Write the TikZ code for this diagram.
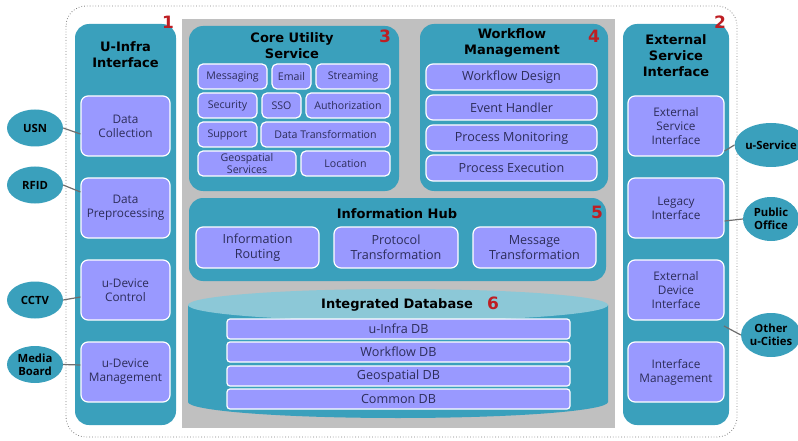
\documentclass[tikz,border=0pt]{standalone}
\usepackage{fontspec}
\setmainfont{Open Sans}
\newfontfamily\titlefont{DejaVu Sans}
\usetikzlibrary{shapes.geometric,calc}
\definecolor{tealp}{RGB}{58,160,188}
\definecolor{toplight}{RGB}{140,200,215}
\definecolor{lav}{RGB}{153,153,255}
\definecolor{bggray}{RGB}{192,192,192}
\definecolor{numred}{RGB}{190,30,35}
\definecolor{txt}{RGB}{45,45,90}
\definecolor{linkgray}{RGB}{110,110,110}
\newcommand\Rbox[6]{\node[#1, minimum width={#4-#2}, minimum height={#5-#3}] (#6) at ({(#2+#4)/2},{(#3+#5)/2})}
\tikzset{
  panel/.style={fill=tealp, draw=none, rounded corners=14pt, inner sep=0pt, outer sep=0pt},
  ibox/.style={fill=lav, draw=white, line width=1.2pt, rounded corners=7pt, inner sep=0pt,
    font=\fontsize{11.8}{14}\selectfont, text=txt, align=center},
  wbox/.style={ibox, font=\fontsize{12.6}{14}\selectfont},
  hbox/.style={ibox, font=\fontsize{12.6}{15}\selectfont},
  sbox/.style={ibox, rounded corners=5pt, font=\fontsize{10.6}{12}\selectfont},
  dbbar/.style={ibox, rounded corners=3pt, font=\fontsize{12.6}{13}\selectfont},
  title/.style={font=\titlefont\bfseries\fontsize{13}{16}\selectfont, align=center, text=black, inner sep=0pt},
  num/.style={font=\titlefont\bfseries\fontsize{17}{17}\selectfont, text=numred, inner sep=0pt},
  ext/.style={ellipse, fill=tealp, draw=none, inner sep=0pt, align=center,
    font=\bfseries\fontsize{11.3}{13}\selectfont, text=black},
  link/.style={draw=linkgray, line width=1.2pt}
}
\begin{document}
\begin{tikzpicture}[x=1pt,y=-1pt]
\useasboundingbox (0,0) rectangle (798,441);
% outer dotted frame
\draw[gray, dotted, line width=0.8pt, rounded corners=20pt] (66,6) rectangle (737,437);
% gray background
\fill[bggray] (182,19) rectangle (615,428);
% left panel
\Rbox{panel}{75}{24}{176}{425}{left} {};
\node[title] (lt) at (125.5,54.5) {U-Infra\\Interface};
\node[num] (n1) at (168,22) {1};
\Rbox{ibox}{81}{96}{170}{156}{dc} {Data\\Collection};
\Rbox{ibox}{81}{178}{170}{238}{dp} {Data\\Preprocessing};
\Rbox{ibox}{81}{260}{170}{320}{udc} {u-Device\\Control};
\Rbox{ibox}{81}{342}{170}{402}{udm} {u-Device\\Management};
% right panel
\Rbox{panel}{623}{24}{729}{425}{right} {};
\node[title] (rt) at (676,56) {External\\Service\\Interface};
\node[num] (n2) at (720,22) {2};
\Rbox{ibox}{628}{96}{724}{156}{esi} {External\\Service\\Interface};
\Rbox{ibox}{628}{178}{724}{238}{leg} {Legacy\\Interface};
\Rbox{ibox}{628}{260}{724}{320}{edi} {External\\Device\\Interface};
\Rbox{ibox}{628}{342}{724}{402}{im} {Interface\\Management};
% core utility
\Rbox{panel}{189}{26}{399}{191}{core} {};
\node[title] (ct) at (292,46) {Core Utility\\Service};
\node[num] (n3) at (385,36) {3};
\Rbox{sbox}{198}{64}{267}{89}{msg} {Messaging};
\Rbox{sbox}{272}{64}{311}{89}{email} {Email};
\Rbox{sbox}{316}{64}{390}{89}{stream} {Streaming};
\Rbox{sbox}{198}{93}{257}{118}{sec} {Security};
\Rbox{sbox}{262}{93}{301}{118}{sso} {SSO};
\Rbox{sbox}{306}{93}{390}{118}{auth} {Authorization};
\Rbox{sbox}{198}{122}{257}{147}{sup} {Support};
\Rbox{sbox}{261}{122}{390}{147}{dtr} {Data Transformation};
\Rbox{sbox}{198}{151}{296}{176}{geo} {Geospatial\\Services};
\Rbox{sbox}{301}{151}{390}{176}{loc} {Location};
% workflow
\Rbox{panel}{420}{24}{608}{191}{wf} {};
\node[title] (wt) at (512,43) {Workflow\\Management};
\node[num] (n4) at (594,36) {4};
\Rbox{wbox}{426}{64}{597}{90}{wd} {Workflow Design};
\Rbox{wbox}{426}{95}{597}{120}{eh} {Event Handler};
\Rbox{wbox}{426}{125}{597}{151}{pm} {Process Monitoring};
\Rbox{wbox}{426}{155}{597}{181}{pe} {Process Execution};
% information hub
\Rbox{panel}{189}{198}{606}{281}{hub} {};
\node[title] (ht) at (397,214) {Information Hub};
\node[num] (n5) at (597,212) {5};
\Rbox{hbox}{196}{227}{319}{268}{ir} {Information\\Routing};
\Rbox{hbox}{334}{227}{458}{268}{pt} {Protocol\\Transformation};
\Rbox{hbox}{473}{227}{596}{268}{mt} {Message\\Transformation};
% database cylinder
\fill[tealp] (188,305) -- (188,402) arc[start angle=180, end angle=360, x radius=210pt, y radius=16pt] -- (608,305) -- cycle;
\fill[toplight] (398,305) ellipse [x radius=210pt, y radius=16pt];
\node[title] (dbt) at (397,305) {Integrated Database};
\node[num] (n6) at (493,303) {6};
\Rbox{dbbar}{227}{319}{570}{339}{db1} {u-Infra DB};
\Rbox{dbbar}{227}{342}{570}{362}{db2} {Workflow DB};
\Rbox{dbbar}{227}{366}{570}{386}{db3} {Geospatial DB};
\Rbox{dbbar}{227}{389}{570}{409}{db4} {Common DB};
% external entities left
\node[ext, minimum width=56, minimum height=37] (usn) at (35,128) {USN};
\node[ext, minimum width=56, minimum height=37] (rfid) at (35,185) {RFID};
\node[ext, minimum width=56, minimum height=37] (cctv) at (35,300) {CCTV};
\node[ext, minimum width=56, minimum height=37] (mb) at (35,364.5) {Media\\Board};
% external entities right
\node[ext, minimum width=56, minimum height=44] (us) at (771,145) {u-Service};
\node[ext, minimum width=56, minimum height=44] (po) at (771,219) {Public\\Office};
\node[ext, minimum width=56, minimum height=44] (ouc) at (771,335) {Other\\u-Cities};
\coordinate (ocend) at (724,326);
% links
\draw[link] (usn.east) -- ($(dc.west)+(0,8)$);
\draw[link] (rfid.east) -- ($(dp.west)+(0,-16)$);
\draw[link] (cctv.east) -- ($(udc.west)+(0,7)$);
\draw[link] (mb.east) -- ($(udm.west)+(0,-7)$);
\draw[link] ($(esi.east)+(0,25)$) -- (us.west);
\draw[link] ($(leg.east)+(0,13)$) -- (po.west);
\draw[link] (ocend) -- (ouc.west);
\end{tikzpicture}
\end{document}
